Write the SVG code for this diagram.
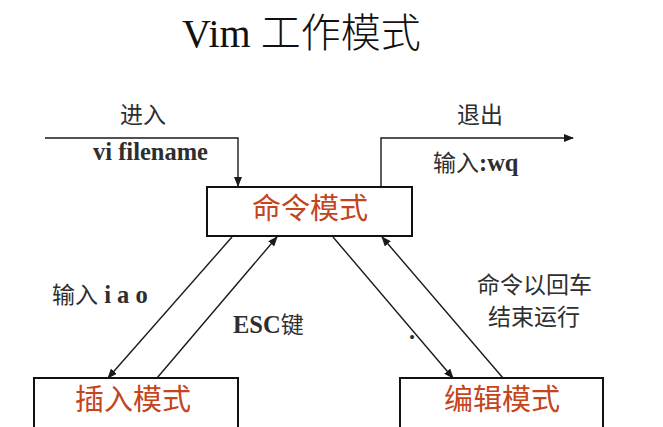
<svg xmlns="http://www.w3.org/2000/svg" width="663" height="427" viewBox="0 0 663 427">
  <defs>
    <marker id="arr" markerUnits="userSpaceOnUse" markerWidth="10" markerHeight="8" refX="9" refY="4" orient="auto">
      <path d="M0,0 L10,4 L0,8 z" fill="#1a1a1a"/>
    </marker>
    <style>
      .box { fill: #ffffff; stroke: #111111; stroke-width: 2; }
      .mode { font-family: "Noto Sans CJK SC", sans-serif; font-size: 29px; fill: #c4441c; text-anchor: middle; }
      .lbl { font-family: "Liberation Serif", "Noto Sans CJK SC", serif; font-size: 23px; fill: #2e2e2e; }
      .cjk { font-family: "Noto Sans CJK SC", sans-serif; font-weight: normal; }
      .b { font-family: "Liberation Serif", serif; font-weight: bold; font-size: 24.5px; }
      .conn { fill: none; stroke: #1a1a1a; stroke-width: 1.4; marker-end: url(#arr); }
    </style>
  </defs>
  <rect width="663" height="427" fill="#ffffff"/>

  <text x="182" y="47" font-family="Liberation Serif, Noto Sans CJK SC, serif" font-size="40" fill="#111111">Vim <tspan font-family="Noto Sans CJK SC, sans-serif" font-weight="300">工作模式</tspan></text>

  <g id="connectors">
    <path class="conn" d="M45,138 H238 V186"/>
    <path class="conn" d="M381,186 V138 H573"/>
    <path class="conn" d="M232,237 L108,378"/>
    <path class="conn" d="M157,378 L277,237"/>
    <path class="conn" d="M333,237 L453,378"/>
    <path class="conn" d="M503,378 L382,237"/>
  </g>

  <g id="labels">
    <text class="lbl cjk" x="143" y="123" text-anchor="middle">进入</text>
    <text class="lbl b" x="93" y="160">vi filename</text>
    <text class="lbl cjk" x="480" y="123" text-anchor="middle">退出</text>
    <text class="lbl" x="433" y="171"><tspan class="cjk">输入</tspan><tspan class="b">:wq</tspan></text>
    <text class="lbl" x="52" y="303"><tspan class="cjk">输入</tspan><tspan class="b"> i a o</tspan></text>
    <text class="lbl" x="233" y="333"><tspan class="b">ESC</tspan><tspan class="cjk">键</tspan></text>
    <text class="lbl cjk" x="477" y="293" font-size="22">命令以回车</text>
    <text class="lbl cjk" x="488" y="325" font-size="22">结束运行</text>
    <text class="lbl b" x="409" y="339" font-size="18">.</text>
  </g>

  <g id="node-command">
    <rect class="box" x="207" y="187" width="205" height="49"/>
    <text class="mode" x="310" y="219">命令模式</text>
  </g>
  <g id="node-insert">
    <rect class="box" x="34" y="378" width="204" height="62"/>
    <text class="mode" x="133" y="410">插入模式</text>
  </g>
  <g id="node-edit">
    <rect class="box" x="400" y="378" width="203" height="62"/>
    <text class="mode" x="502" y="410">编辑模式</text>
  </g>
</svg>
